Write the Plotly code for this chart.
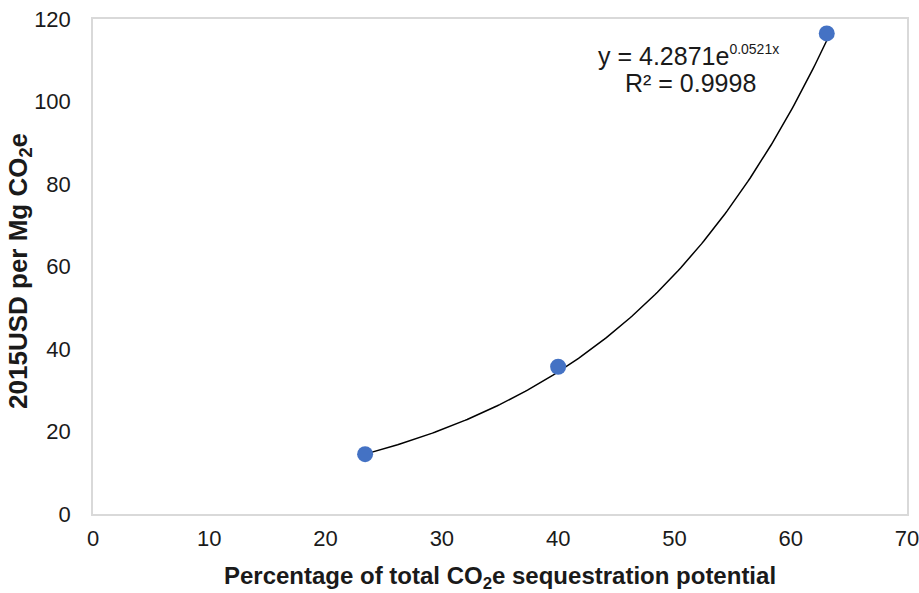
import numpy as np
import plotly.graph_objects as go

# Observed cost points
share_pct = [23.4, 40.0, 63.1]
cost_usd = [14.5, 35.7, 116.5]

# Exponential trendline parameters
fit_a = 4.2871
fit_b = 0.0521
fit_r2 = 0.9998

x_ticks = [0, 10, 20, 30, 40, 50, 60, 70]
y_ticks = [0, 20, 40, 60, 80, 100, 120]

FONT = "Liberation Sans, Arial, sans-serif"
TXT = "#1a1a1a"

xs = np.linspace(min(share_pct), max(share_pct), 200)
ys = fit_a * np.exp(fit_b * xs)

fig = go.Figure()
fig.add_trace(go.Scatter(x=xs, y=ys, mode="lines",
                         line=dict(color="black", width=1.5),
                         hoverinfo="skip", showlegend=False))
fig.add_trace(go.Scatter(x=share_pct, y=cost_usd, mode="markers",
                         marker=dict(color="#4472C4", size=16),
                         showlegend=False))

# Trendline equation and fit quality, one annotation per line
fig.add_annotation(
    x=51.25, y=107.3, xref="x", yref="y", xanchor="center", yanchor="bottom",
    text=f"y = {fit_a}e<sup><span style='font-size:14px'>{fit_b}x</span></sup>",
    showarrow=False, borderpad=0,
    font=dict(family=FONT, size=25, color=TXT),
)
fig.add_annotation(
    x=51.35, y=104.6, xref="x", yref="y", xanchor="center", yanchor="middle",
    text=f"R² = {fit_r2}",
    showarrow=False, borderpad=0,
    font=dict(family=FONT, size=25, color=TXT),
)

# Vertical axis title
fig.add_annotation(
    x=-0.0897, y=0.491, xref="paper", yref="paper",
    xanchor="center", yanchor="middle", textangle=-90,
    text="<b>2015USD per Mg CO<sub>2</sub>e</b>",
    showarrow=False, font=dict(family=FONT, size=26, color=TXT),
)

fig.update_layout(
    width=919, height=593,
    margin=dict(l=93, r=12, t=19, b=79),
    paper_bgcolor="white", plot_bgcolor="white",
    font=dict(family=FONT, size=22, color=TXT),
)
fig.update_xaxes(
    range=[0, 70], tickvals=x_ticks, showgrid=False, zeroline=False,
    showline=True, mirror=True, linecolor="#d9d9d9", linewidth=1.5,
    automargin=False, ticklabeloverflow="allow",
    ticks="", ticklabelstandoff=4, tickfont=dict(size=22, color=TXT),
    title=dict(text="<b>Percentage of total CO<sub>2</sub>e sequestration potential</b>",
               font=dict(size=24, color=TXT), standoff=18),
)
fig.update_yaxes(
    range=[0, 120], tickvals=y_ticks, showgrid=False, zeroline=False,
    showline=True, mirror=True, linecolor="#d9d9d9", linewidth=1.5,
    automargin=False, ticklabeloverflow="allow",
    ticks="", ticklabelstandoff=16, tickfont=dict(size=22, color=TXT),
)

fig.write_html("out.html")
